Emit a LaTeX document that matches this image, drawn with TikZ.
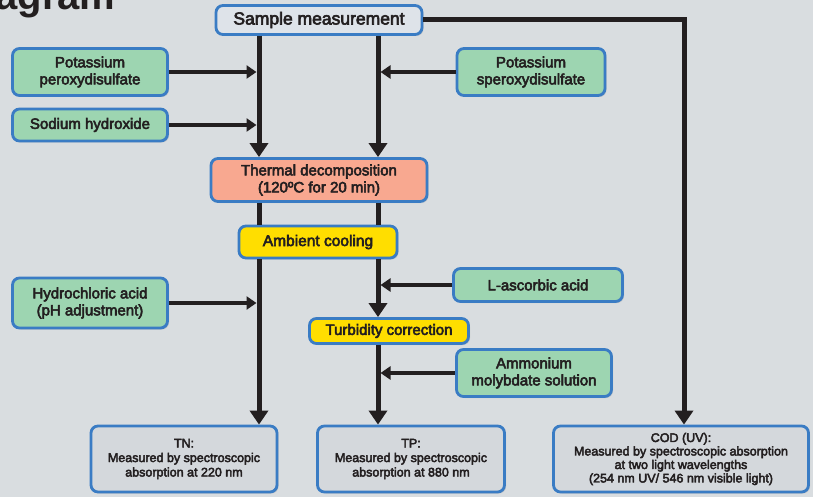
\documentclass[tikz,border=0pt]{standalone}
\usepackage{fontspec}
\setmainfont{Liberation Sans}
\newfontfamily\medfont{Liberation Sans}[FakeBold=3.5]
\usetikzlibrary{arrows.meta,shadows}

\definecolor{paper}{HTML}{D9DDE0}
\definecolor{frame}{HTML}{3A7CC4}
\definecolor{reagentfill}{HTML}{9DD5B1}
\definecolor{heatfill}{HTML}{F8A890}
\definecolor{stepfill}{HTML}{FFDE00}
\definecolor{resultfill}{HTML}{D4D8DC}
\definecolor{startfill}{HTML}{DEE3E9}
\definecolor{ink}{HTML}{231F20}

\tikzset{
  box/.style={draw=frame, line width=2.8pt, rounded corners=7pt, align=center,
    inner sep=0pt, text=ink,
    drop shadow={opacity=0.25, shadow xshift=1.5pt, shadow yshift=-1.5pt}},
  reagent/.style={box, fill=reagentfill, font=\fontsize{15}{17}\medfont},
  stepbox/.style={box, fill=stepfill, font=\fontsize{15.5}{17}\medfont},
  result/.style={box, fill=resultfill, font=\fontsize{12.5}{14.5}\medfont},
  trunk/.style={draw=ink, line width=5pt, -{Triangle[length=14pt,width=18pt]}},
  plain/.style={draw=ink, line width=5pt},
  feed/.style={draw=ink, line width=3.5pt, -{Triangle[length=10pt,width=13pt]}, shorten >=2.5pt},
}

\begin{document}
\begin{tikzpicture}[x=1pt, y=-1pt]
    \useasboundingbox[fill=paper] (0,0) rectangle (813,497);
    \node[anchor=base east, font=\fontsize{40}{40}\bfseries, text=ink] (title) at (119,10) {Diagram};

    % boxes
    \node[box, fill=startfill, minimum width=206, minimum height=29, font=\fontsize{17.5}{19}\medfont] (sample) at (319,20) {Sample measurement};
    \node[reagent, minimum width=155, minimum height=47] (kpsL) at (90,72) {Potassium\\peroxydisulfate};
    \node[reagent, minimum width=155, minimum height=32] (naoh) at (90,125) {Sodium hydroxide};
    \node[reagent, minimum width=148, minimum height=47] (kpsR) at (531,72) {Potassium\\speroxydisulfate};
    \node[box, fill=heatfill, minimum width=216, minimum height=43, font=\fontsize{15}{17}\medfont] (heat) at (319,180) {Thermal decomposition\\(120ºC for 20 min)};
    \node[stepbox, minimum width=158, minimum height=32] (cool) at (318,242) {Ambient cooling};
    \node[reagent, minimum width=155, minimum height=50] (hcl) at (90,303) {Hydrochloric acid\\(pH adjustment)};
    \node[reagent, minimum width=169, minimum height=33] (asc) at (538,285) {L-ascorbic acid};
    \node[stepbox, minimum width=159, minimum height=25, font=\fontsize{15}{17}\medfont] (turb) at (389,331) {Turbidity correction};
    \node[reagent, minimum width=155, minimum height=47] (ammo) at (534,373) {Ammonium\\molybdate solution};
    \node[result, minimum width=186, minimum height=66] (tn) at (184,459) {TN:\\Measured by spectroscopic\\absorption at 220 nm};
    \node[result, minimum width=187, minimum height=66] (tp) at (411,459) {TP:\\Measured by spectroscopic\\absorption at 880 nm};
    \node[result, minimum width=255, minimum height=66, font=\fontsize{12.5}{13.5}\medfont] (cod) at (681,459) {COD (UV):\\Measured by spectroscopic absorption\\at two light wavelengths\\(254 nm UV/ 546 nm visible light)};

    % lines
    \coordinate (L) at (259,0);
    \coordinate (R) at (378,0);
    \coordinate (C) at (684,0);
    \draw[trunk] (sample.south -| L) -- (heat.north -| L);
    \draw[trunk] (sample.south -| R) -- (heat.north -| R);
    \draw[plain] (heat.south -| L) -- (cool.north -| L);
    \draw[plain] (heat.south -| R) -- (cool.north -| R);
    \draw[trunk] (cool.south -| L) -- (tn.north -| L);
    \draw[trunk] (cool.south -| R) -- (turb.north -| R);
    \draw[trunk] (turb.south -| R) -- (tp.north -| R);
    \draw[trunk, miter limit=10] (sample.east) -- (sample.east -| C) -- (cod.north -| C);
    \draw[feed] (kpsL.east) -- (kpsL.east -| L);
    \draw[feed] (naoh.east) -- (naoh.east -| L);
    \draw[feed] (hcl.east) -- (hcl.east -| L);
    \draw[feed] (kpsR.west) -- (kpsR.west -| R);
    \draw[feed] (asc.west) -- (asc.west -| R);
    \draw[feed] (ammo.west) -- (ammo.west -| R);
\end{tikzpicture}
\end{document}
